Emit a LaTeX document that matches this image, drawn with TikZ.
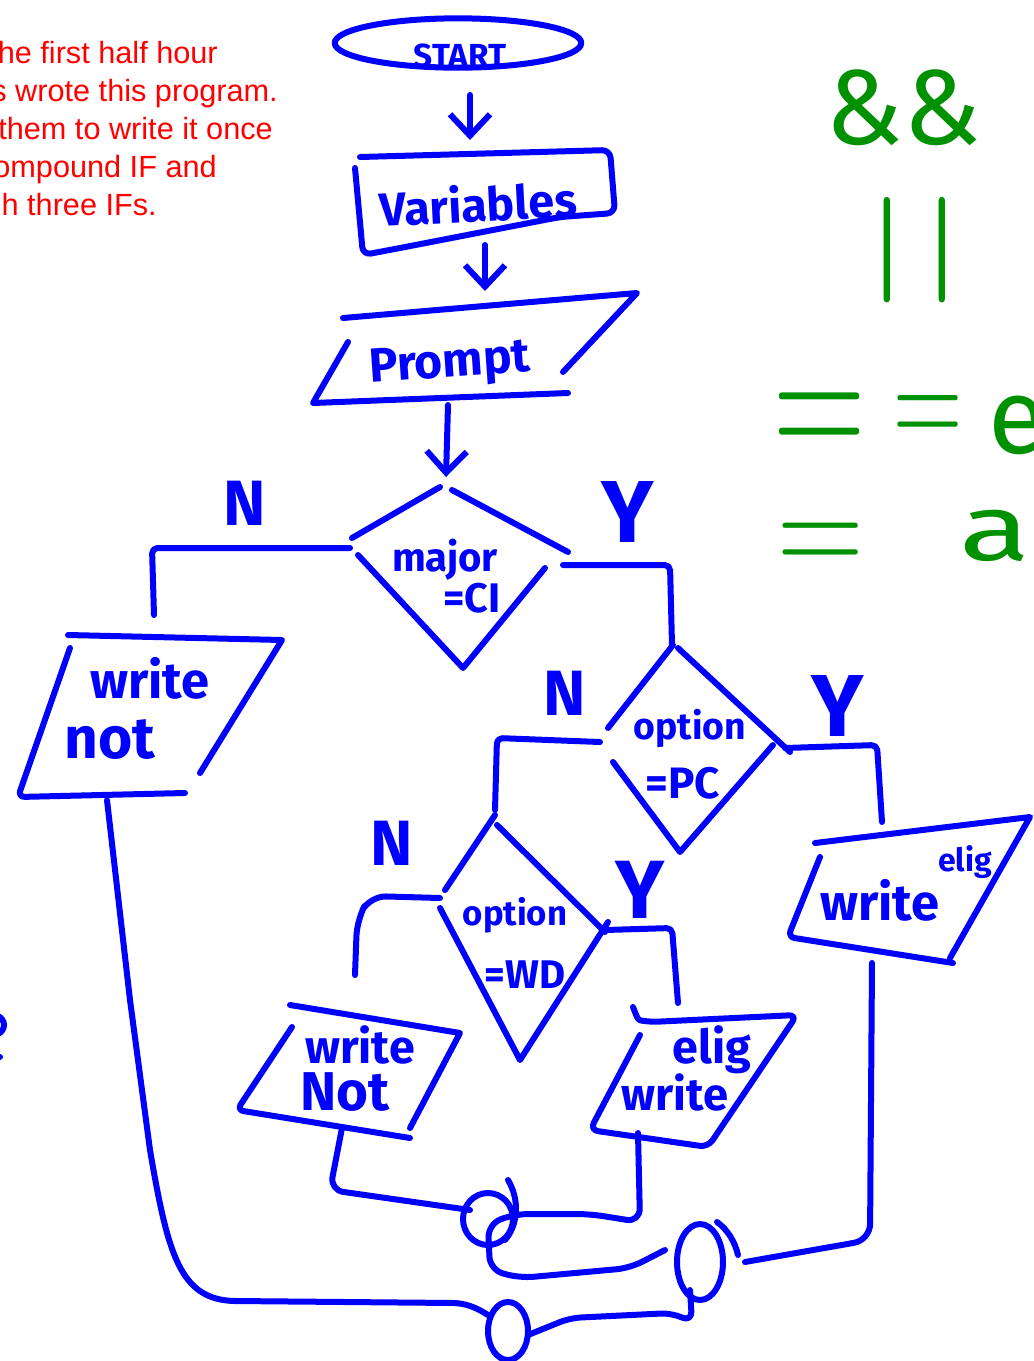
\documentclass[tikz,border=0pt]{standalone}
\usepackage{fontspec}
\usepackage{graphicx}
\setmainfont{Fira Sans}
\newfontfamily\redfont{Liberation Sans}
\usetikzlibrary{arrows.meta,shapes.geometric}
\definecolor{penblue}{RGB}{0,0,255}
\definecolor{pengreen}{RGB}{0,145,0}
\definecolor{penred}{RGB}{255,0,0}
\newcommand\hsz[1]{\fontsize{#1}{#1}\selectfont}
\newcommand\lmthin{\fontfamily{lmr}\selectfont}
\tikzset{
  pen/.style={draw=penblue, line width=4.5pt, line cap=round, line join=round},
  arr/.style={pen, -{Straight Barb[length=16pt,width=30pt]}},
  hand/.style={text=penblue, inner sep=0pt, font=\bfseries\hsz{#1}},
  hand/.default=36,
  redtxt/.style={text=penred, inner sep=0pt, anchor=base east, font=\redfont\hsz{23}},
  greentxt/.style={text=pengreen, inner sep=0pt, font=\hsz{#1}},
  greenthin/.style={text=pengreen, inner sep=0pt, font=\lmthin\hsz{#1}},
}
\begin{document}
\begin{tikzpicture}[x=0.75pt,y=-0.75pt]
\useasboundingbox (0,0) rectangle (1034,1361);

% ---- red note (cut off at the left edge) ----
\node[redtxt] (r1) at (218,63) {he first half hour};
\node[redtxt] (r2) at (278,101) {s wrote this program.};
\node[redtxt] (r3) at (273,139) {them to write it once};
\node[redtxt] (r4) at (217,177) {ompound IF and};
\node[redtxt] (r5) at (157,215) {h three IFs.};

% ---- green operators ----
\node[greentxt=80] (g1) at (903,108) {\&\&};
\node[greenthin=79] (g2) at (915,250) {\textbf{|}\hspace{16pt}\textbf{|}};
\node[greenthin=96] (g3) at (820,428) {\scalebox{1}[1.55]{=}};
\node[greenthin=72] (g4) at (928,422) {\scalebox{1}[1.55]{=}};
\node[greentxt=80] (g5) at (1018,425) {e};
\node[greenthin=90] (g6) at (821,550) {\scalebox{1}[1.25]{=}};
\node[greentxt=70] (g7) at (995,536) {\scalebox{1.4}[1]{a}};

% ---- START ----
\node[pen, ellipse, minimum width=185pt, minimum height=37pt, inner sep=0pt] (start) at (458,43) {};
\node[hand=25] (startlbl) at (460,56) {START};
\coordinate (a1s) at (470,95);
\coordinate (a1e) at (470,140);
\draw[arr] (a1s) -- (a1e);

% ---- Variables ----
\draw[pen, rounded corners=6pt] (360,157) -- (610,150) -- (615,213) -- (560,217) -- (400,248) -- (363,255) -- (355,168);
\node[hand=35, rotate=3] (var) at (478,203) {Variables};
\coordinate (a2s) at (485,245);
\coordinate (a2e) at (485,291);
\draw[arr] (a2s) -- (a2e);

% ---- Prompt ----
\draw[pen] (343,318) -- (637,293) -- (563,372);
\draw[pen] (348,342) -- (313,403) -- (568,393);
\node[hand=36, rotate=4] (prompt) at (450,366) {Prompt};
\coordinate (a3s) at (448,405);
\coordinate (a3e) at (446,477);
\draw[arr] (a3s) -- (a3e);

% ---- decision: major = CI ----
\draw[pen] (440,487) -- (352,538);
\draw[pen] (452,490) -- (568,552);
\draw[pen] (358,555) -- (463,668) -- (545,568);
\node[hand=30] (d1a) at (445,560) {major};
\node[hand=31] (d1b) at (472,598) {=CI};
\node[hand=48] (n1) at (245,503) {N};
\node[hand=66] (y1) at (628,512) {Y};
\coordinate (d1l) at (350,548);
\coordinate (d1r) at (563,565);
\draw[pen, rounded corners=4pt] (d1l) -- (152,548) -- (154,615);
\draw[pen, rounded corners=4pt] (d1r) -- (670,565) -- (672,645);

% ---- write not ----
\draw[pen] (68,635) -- (282,640) -- (200,773);
\draw[pen, rounded corners=5pt] (70,648) -- (18,797) -- (185,793);
\node[hand=38] (wn1) at (150,678) {write};
\node[hand=44] (wn2) at (110,740) {not};

% ---- decision: option = PC ----
\draw[pen] (673,645) -- (608,728);
\draw[pen] (678,648) -- (790,752);
\draw[pen] (613,762) -- (680,852) -- (773,745);
\node[hand=28] (d2a) at (690,728) {option};
\node[hand=33] (d2b) at (683,783) {=PC};
\node[hand=48] (n2) at (565,693) {N};
\node[hand=66] (y2) at (838,706) {Y};
\coordinate (d2r) at (785,748);
\coordinate (d2l) at (600,742);
\draw[pen, rounded corners=4pt] (d2r) -- (877,745) -- (882,822);
\draw[pen, rounded corners=4pt] (d2l) -- (497,738) -- (495,810);

% ---- write elig (right) ----
\draw[pen] (815,843) -- (1030,817) -- (950,958);
\draw[pen, rounded corners=5pt] (820,857) -- (788,937) -- (953,963);
\node[hand=38] (we1) at (880,900) {write};
\node[hand=24] (we2) at (965,862) {elig};

% ---- decision: option = WD ----
\draw[pen] (495,815) -- (445,890);
\draw[pen] (497,825) -- (605,932);
\draw[pen] (440,908) -- (520,1060) -- (608,922);
\node[hand=26] (d3a) at (515,915) {option};
\node[hand=30] (d3b) at (525,975) {=WD};
\node[hand=48] (n3) at (392,843) {N};
\node[hand=62] (y3) at (640,890) {Y};
\coordinate (d3r) at (605,930);
\coordinate (d3l) at (440,898);
\draw[pen, rounded corners=4pt] (d3r) -- (672,928) -- (678,1003);
\draw[pen, rounded corners=12pt] (d3l) -- (370,896) -- (357,920) -- (355,975);

% ---- write Not ----
\draw[pen] (290,1005) -- (460,1033) -- (410,1128);
\draw[pen, rounded corners=5pt] (292,1027) -- (237,1110) -- (410,1138);
\node[hand=35] (wN1) at (360,1045) {write};
\node[hand=41] (wN2) at (345,1092) {Not};

% ---- elig write ----
\draw[pen, rounded corners=6pt] (640,1035) -- (590,1130) -- (708,1147) -- (797,1015) -- (650,1022) .. controls (638,1020) .. (633,1007);
\node[hand=35] (ew1) at (712,1050) {elig};
\node[hand=34] (ew2) at (675,1092) {write};

% ---- connectors to the bottom ----
\draw[pen] (107,800) -- (130,1000) -- (150,1150) .. controls (168,1255) and (180,1300) .. (235,1301) -- (455,1303) .. controls (470,1304) and (480,1310) .. (488,1315);
\draw[pen, rounded corners=10pt] (342,1128) -- (330,1190) -- (470,1210);
\draw[pen, rounded corners=10pt] (638,1133) -- (640,1222) -- (590,1214) -- (515,1214) -- (488,1224) -- (490,1270) -- (520,1278) -- (630,1268) -- (665,1250);
\draw[pen, rounded corners=12pt] (872,963) -- (870,1240) -- (745,1262);
\draw[pen, rounded corners=8pt] (690,1290) -- (692,1322) -- (672,1313) -- (570,1318) -- (528,1335);

% ---- connector circles ----
\draw[pen] (488,1219) ellipse [x radius=25, y radius=26];
\draw[pen] (508,1180) .. controls (520,1200) and (518,1225) .. (505,1240);
\draw[pen] (700,1262) ellipse [x radius=23, y radius=38];
\draw[pen] (717,1222) .. controls (728,1230) and (735,1242) .. (738,1255);
\draw[pen] (508,1331) ellipse [x radius=20, y radius=29];

% ---- stray mark at the left edge ----
\draw[pen] (-2,1016) .. controls (6,1020) and (6,1030) .. (-2,1034);
\fill[penblue] (0,1057) circle [radius=3];
\end{tikzpicture}
\end{document}
